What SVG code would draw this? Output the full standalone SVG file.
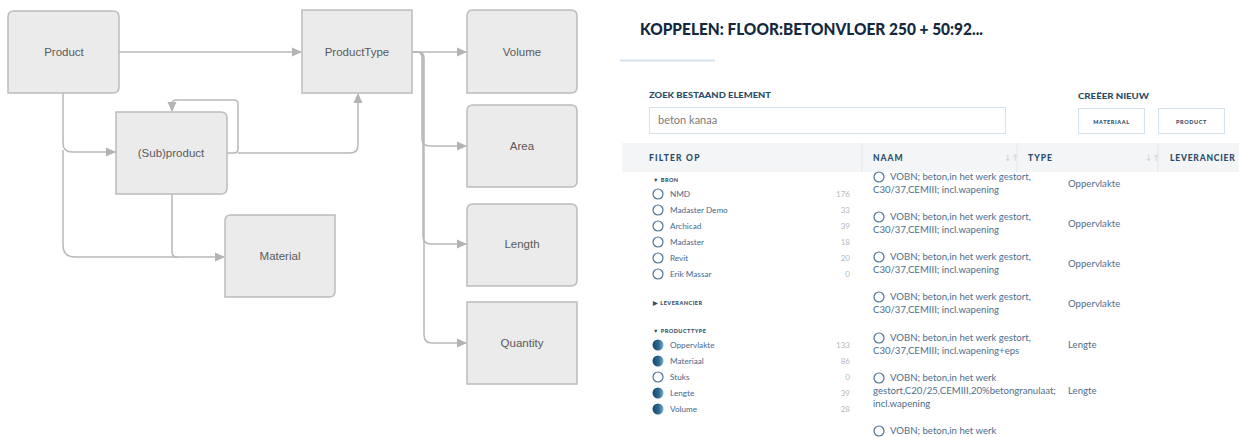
<svg xmlns="http://www.w3.org/2000/svg" width="1239" height="437" viewBox="0 0 1239 437">
  <defs>
    <marker id="arrow" markerUnits="userSpaceOnUse" markerWidth="10" markerHeight="10" viewBox="0 0 10 10" refX="9" refY="5" orient="auto">
      <path d="M0,0.5 L10,5 L0,9.5 Z" fill="#b3b3b3"/>
    </marker>
    <linearGradient id="dot" x1="0" y1="0" x2="1" y2="0">
      <stop offset="0" stop-color="#164a6d"/>
      <stop offset="0.55" stop-color="#2c6790"/>
      <stop offset="1" stop-color="#7eb0cf"/>
    </linearGradient>
    <style>
      .box { fill: #ebebeb; stroke: #bcbcbc; stroke-width: 1.5; }
      .lbl { font-family: "Liberation Sans", Arial, sans-serif; font-size: 11.5px; fill: #5a5a5a; text-anchor: middle; }
      .wire { fill: none; stroke: #b8b8b8; stroke-width: 1.5; }
      .title { font-family: Lato, "Open Sans", sans-serif; font-weight: 900; font-size: 17.5px; fill: #14283e; }
      .cap { font-family: Lato, "Open Sans", sans-serif; font-weight: 900; fill: #2b4d6b; }
      .txt { font-family: Lato, "Open Sans", sans-serif; font-size: 9.6px; fill: #4d6e8c; }
      .side { font-family: Lato, "Open Sans", sans-serif; font-size: 8.2px; fill: #46698a; }
      .cnt { font-family: Lato, "Open Sans", sans-serif; font-size: 8px; fill: #b8b8b8; text-anchor: end; }
      .ring { fill: #fff; stroke: #4f7393; stroke-width: 1.2; }
      .full { fill: url(#dot); }
    </style>
  </defs>

  <!-- ===== data model ===== -->
  <g id="connectors">
    <path class="wire" d="M119,52 H301" marker-end="url(#arrow)"/>
    <path class="wire" d="M63,93 V143 Q63,152 72,152 H115" marker-end="url(#arrow)"/>
    <path class="wire" d="M63,150 V245 Q63,257 75,257 H224" marker-end="url(#arrow)"/>
    <path class="wire" d="M172,194 V252 Q172,257 177,257"/>
    <path class="wire" d="M227,153 H234 Q238,153 238,149 V104 Q238,100 234,100 H176 Q172,100 172,104 V111" marker-end="url(#arrow)"/>
    <path class="wire" d="M238,153 H350 Q358,153 358,145 V94" marker-end="url(#arrow)"/>
    <path class="wire" d="M412,52 H466" marker-end="url(#arrow)"/>
    <path class="wire" d="M412,52 H417 Q422,52 422,58 V139 Q422,146 430,146 H466" marker-end="url(#arrow)"/>
    <path class="wire" d="M412,52 H418 Q423,52 423,58 V236 Q423,244 431,244 H466" marker-end="url(#arrow)"/>
    <path class="wire" d="M412,52 H418 Q424,52 424,58 V335 Q424,343 432,343 H466" marker-end="url(#arrow)"/>
  </g>

  <g id="product">
    <path class="box" d="M8,93 V17 Q8,11 14,11 H113 Q119,11 119,17 V87 Q119,93 113,93 Z"/>
    <text class="lbl" x="64" y="56">Product</text>
  </g>
  <g id="subproduct">
    <path class="box" d="M116,112 H221 Q227,112 227,118 V188 Q227,194 221,194 H116 Z"/>
    <text class="lbl" x="171" y="157">(Sub)product</text>
  </g>
  <g id="material">
    <path class="box" d="M225,297 V221 Q225,215 231,215 H335 V291 Q335,297 329,297 Z"/>
    <text class="lbl" x="280" y="260">Material</text>
  </g>
  <g id="producttype">
    <rect class="box" x="302" y="10" width="110" height="83"/>
    <text class="lbl" x="357" y="56">ProductType</text>
  </g>
  <g id="volume">
    <path class="box" d="M467,93 V16 Q467,10 473,10 H571 Q577,10 577,16 V87 Q577,93 571,93 Z"/>
    <text class="lbl" x="522" y="56">Volume</text>
  </g>
  <g id="area">
    <path class="box" d="M467,187 V111 Q467,105 473,105 H571 Q577,105 577,111 V181 Q577,187 571,187 Z"/>
    <text class="lbl" x="522" y="150">Area</text>
  </g>
  <g id="length">
    <path class="box" d="M467,286 V210 Q467,204 473,204 H571 Q577,204 577,210 V280 Q577,286 571,286 Z"/>
    <text class="lbl" x="522" y="248">Length</text>
  </g>
  <g id="quantity">
    <rect class="box" x="467" y="302" width="110" height="82"/>
    <text class="lbl" x="522" y="347">Quantity</text>
  </g>

  <!-- ===== link dialog ===== -->
  <g id="dialog-header">
    <text class="title" x="640" y="35" textLength="343" lengthAdjust="spacingAndGlyphs">KOPPELEN: FLOOR:BETONVLOER 250 + 50:92...</text>
    <line x1="620" y1="60.5" x2="715" y2="60.5" stroke="#d3e4ef" stroke-width="2"/>
  </g>

  <g id="search">
    <text class="cap" x="649" y="98" font-size="7.5" textLength="122" lengthAdjust="spacingAndGlyphs">ZOEK BESTAAND ELEMENT</text>
    <rect x="649.5" y="107.5" width="356" height="26" fill="#fff" stroke="#d2e3ee"/>
    <text x="658" y="124" font-family="Lato, 'Open Sans', sans-serif" font-size="11" fill="#7b7b7b">beton kanaa</text>
  </g>

  <g id="create-new">
    <text class="cap" x="1078" y="99" font-size="7.5" textLength="71" lengthAdjust="spacingAndGlyphs">CREËER NIEUW</text>
    <rect x="1078.5" y="108.5" width="66" height="25" fill="#fff" stroke="#d2e3ee"/>
    <text class="cap" x="1111.5" y="124" font-size="5.5" text-anchor="middle" letter-spacing="0.6">MATERIAAL</text>
    <rect x="1158.5" y="108.5" width="66" height="25" fill="#fff" stroke="#d2e3ee"/>
    <text class="cap" x="1191.5" y="124" font-size="5.5" text-anchor="middle" letter-spacing="0.6">PRODUCT</text>
  </g>

  <g id="table-header">
    <rect x="622" y="143" width="617" height="29" fill="#f3f5f7"/>
    <line x1="862" y1="143" x2="862" y2="172" stroke="#e3e7eb"/>
    <line x1="1017" y1="143" x2="1017" y2="172" stroke="#e3e7eb"/>
    <line x1="1158" y1="143" x2="1158" y2="172" stroke="#e3e7eb"/>
    <text class="cap" x="649" y="161" font-size="8.5" letter-spacing="1.2">FILTER OP</text>
    <text class="cap" x="873" y="161" font-size="8.5" letter-spacing="1">NAAM</text>
    <text class="cap" x="1028" y="161" font-size="8.5" letter-spacing="1">TYPE</text>
    <text class="cap" x="1170" y="161" font-size="8.5" letter-spacing="0.8">LEVERANCIER</text>
    <text x="1004" y="161" font-family="'DejaVu Sans', sans-serif" font-size="9" fill="#cdd2d7">↓↑</text>
    <text x="1145" y="161" font-family="'DejaVu Sans', sans-serif" font-size="9" fill="#cdd2d7">↓↑</text>
  </g>

  <g id="filter-bron">
    <text class="cap" x="653" y="182" font-size="5.5" letter-spacing="0.5">▼ BRON</text>
    <circle class="ring" cx="658" cy="194" r="5"/><text class="side" x="670" y="197">NMD</text><text class="cnt" x="850" y="197">176</text>
    <circle class="ring" cx="658" cy="210" r="5"/><text class="side" x="670" y="213">Madaster Demo</text><text class="cnt" x="850" y="213">33</text>
    <circle class="ring" cx="658" cy="226" r="5"/><text class="side" x="670" y="229">Archicad</text><text class="cnt" x="850" y="229">39</text>
    <circle class="ring" cx="658" cy="242" r="5"/><text class="side" x="670" y="245">Madaster</text><text class="cnt" x="850" y="245">18</text>
    <circle class="ring" cx="658" cy="258" r="5"/><text class="side" x="670" y="261">Revit</text><text class="cnt" x="850" y="261">20</text>
    <circle class="ring" cx="658" cy="274" r="5"/><text class="side" x="670" y="277">Erik Massar</text><text class="cnt" x="850" y="277">0</text>
  </g>

  <g id="filter-leverancier">
    <text class="cap" x="653" y="305" font-size="5.5" letter-spacing="0.5">▶ LEVERANCIER</text>
  </g>

  <g id="filter-producttype">
    <text class="cap" x="653" y="333" font-size="5.5" letter-spacing="0.5">▼ PRODUCTTYPE</text>
    <circle class="full" cx="658" cy="345" r="5.5"/><text class="side" x="670" y="348">Oppervlakte</text><text class="cnt" x="850" y="348">133</text>
    <circle class="full" cx="658" cy="361" r="5.5"/><text class="side" x="670" y="364">Materiaal</text><text class="cnt" x="850" y="364">86</text>
    <circle class="ring" cx="658" cy="377" r="5"/><text class="side" x="670" y="380">Stuks</text><text class="cnt" x="850" y="380">0</text>
    <circle class="full" cx="658" cy="393" r="5.5"/><text class="side" x="670" y="396">Lengte</text><text class="cnt" x="850" y="396">39</text>
    <circle class="full" cx="658" cy="409" r="5.5"/><text class="side" x="670" y="412">Volume</text><text class="cnt" x="850" y="412">28</text>
  </g>

  <g id="results">
    <circle class="ring" cx="879" cy="177" r="5"/>
    <text class="txt" x="890" y="180">VOBN; beton,in het werk gestort,</text>
    <text class="txt" x="873" y="193">C30/37,CEMIII; incl.wapening</text>
    <text class="txt" x="1068" y="187">Oppervlakte</text>

    <circle class="ring" cx="879" cy="217" r="5"/>
    <text class="txt" x="890" y="220">VOBN; beton,in het werk gestort,</text>
    <text class="txt" x="873" y="233">C30/37,CEMIII; incl.wapening</text>
    <text class="txt" x="1068" y="227">Oppervlakte</text>

    <circle class="ring" cx="879" cy="257" r="5"/>
    <text class="txt" x="890" y="260">VOBN; beton,in het werk gestort,</text>
    <text class="txt" x="873" y="273">C30/37,CEMIII; incl.wapening</text>
    <text class="txt" x="1068" y="267">Oppervlakte</text>

    <circle class="ring" cx="879" cy="297" r="5"/>
    <text class="txt" x="890" y="300">VOBN; beton,in het werk gestort,</text>
    <text class="txt" x="873" y="313">C30/37,CEMIII; incl.wapening</text>
    <text class="txt" x="1068" y="307">Oppervlakte</text>

    <circle class="ring" cx="879" cy="338" r="5"/>
    <text class="txt" x="890" y="341">VOBN; beton,in het werk gestort,</text>
    <text class="txt" x="873" y="354">C30/37,CEMIII; incl.wapening+eps</text>
    <text class="txt" x="1068" y="348">Lengte</text>

    <circle class="ring" cx="879" cy="378" r="5"/>
    <text class="txt" x="890" y="381">VOBN; beton,in het werk</text>
    <text class="txt" x="873" y="394">gestort,C20/25,CEMIII,20%betongranulaat;</text>
    <text class="txt" x="873" y="407">incl.wapening</text>
    <text class="txt" x="1068" y="394">Lengte</text>

    <circle class="ring" cx="879" cy="431" r="5"/>
    <text class="txt" x="890" y="434">VOBN; beton,in het werk</text>
  </g>
</svg>
